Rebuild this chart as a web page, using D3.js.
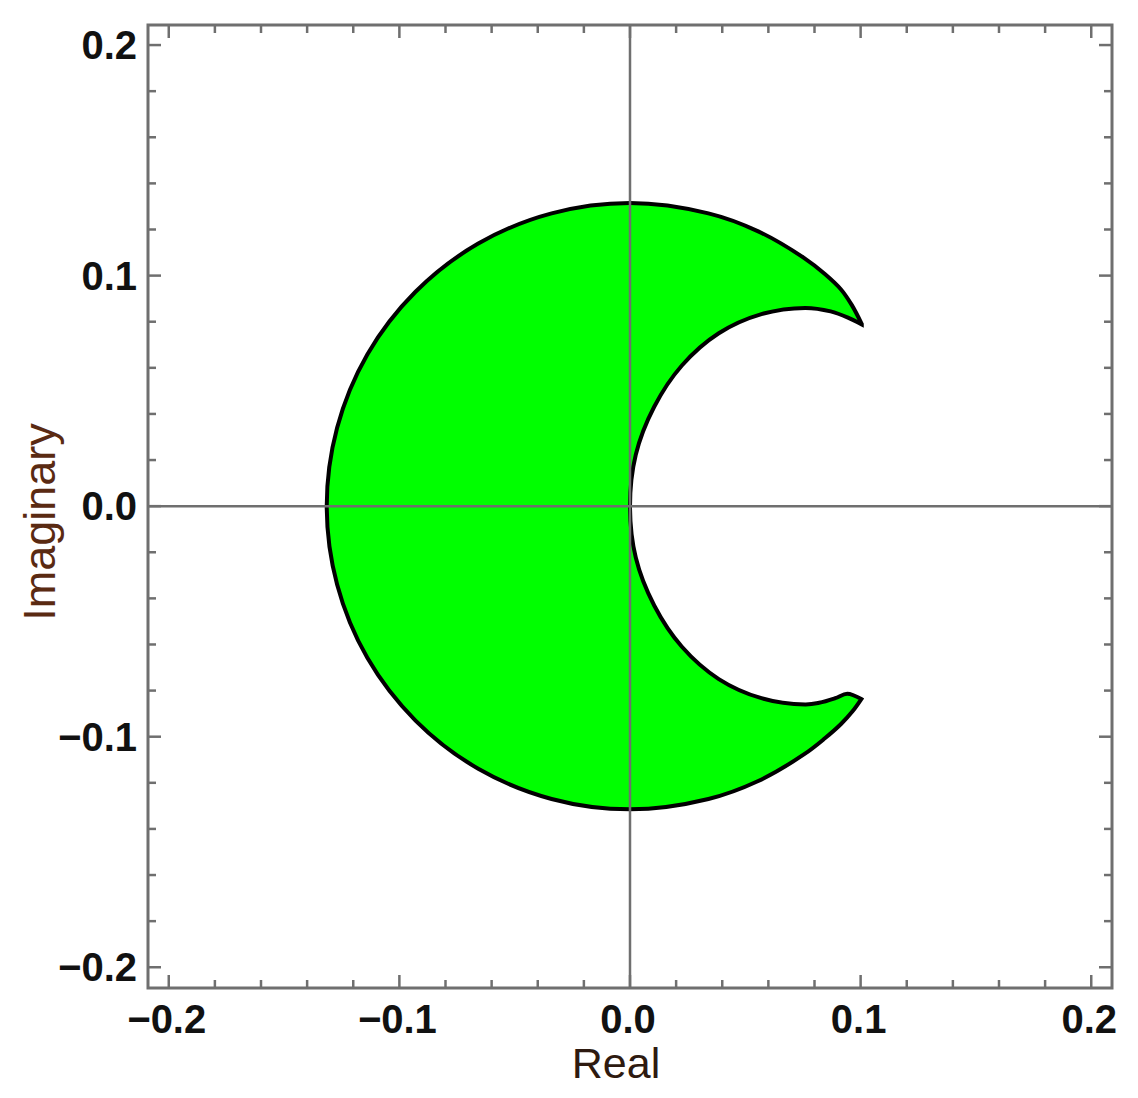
<!DOCTYPE html>
<html>
<head>
<meta charset="utf-8">
<script src="https://cdn.jsdelivr.net/npm/d3@7"></script>
<style>
  html, body { margin: 0; padding: 0; background: #fff; }
  svg { display: block; }
</style>
</head>
<body>
<svg id="chart" width="1138" height="1098"></svg>
<script>
// ---- data ----
// outer boundary: from the upper tip, counter-clockwise round the left, to the lower tip
const outerRe = [0.1005, 0.0962, 0.0915, 0.0845, 0.0754, 0.0556, 0.0340, 0.0000, -0.0340, -0.0658, -0.0930, -0.1139, -0.1270, -0.1315,
                 -0.1270, -0.1139, -0.0930, -0.0658, -0.0340, 0.0000, 0.0340, 0.0556, 0.0754, 0.0845, 0.0915, 0.0965, 0.1003];
const outerIm = [0.0790, 0.0872, 0.0940, 0.1007, 0.1077, 0.1192, 0.1270, 0.1315, 0.1270, 0.1139, 0.0930, 0.0658, 0.0340, 0.0000,
                 -0.0340, -0.0658, -0.0930, -0.1139, -0.1270, -0.1315, -0.1270, -0.1192, -0.1077, -0.1007, -0.0945, -0.0890, -0.0837];
// inner boundary: from the lower tip back to the upper tip
const innerRe = [0.1003, 0.0942, 0.0890, 0.0820, 0.0760, 0.0570, 0.0385, 0.0225, 0.0105, 0.0025, 0.0000,
                 0.0025, 0.0105, 0.0225, 0.0385, 0.0570, 0.0760, 0.0870, 0.0945, 0.1005];
const innerIm = [-0.0837, -0.0814, -0.0833, -0.0853, -0.0860, -0.0833, -0.0750, -0.0610, -0.0431, -0.0223, 0.0000,
                 0.0223, 0.0431, 0.0610, 0.0750, 0.0833, 0.0860, 0.0845, 0.0818, 0.0788];

const majorTicks = [-0.2, -0.1, 0.0, 0.1, 0.2];
const majorLabels = ["\u22120.2", "\u22120.1", "0.0", "0.1", "0.2"];
const minorTicks = [-0.18, -0.16, -0.14, -0.12, -0.08, -0.06, -0.04, -0.02, 0.02, 0.04, 0.06, 0.08, 0.12, 0.14, 0.16, 0.18];
const xTitle = "Real";
const yTitle = "Imaginary";

// ---- layout ----
const L = 148, R = 1112, T = 25, B = 988;
const x = d3.scaleLinear().domain([-0.209, 0.209]).range([L, R]);
const y = d3.scaleLinear().domain([-0.209, 0.2087]).range([B, T]);

const svg = d3.select("#chart");
const gray = "#6f6f6f";

// ---- region ----
const outerPts = outerRe.map((v, i) => [v, outerIm[i]]);
const innerPts = innerRe.map((v, i) => [v, innerIm[i]]);
const line = d3.line().x(d => x(d[0])).y(d => y(d[1])).curve(d3.curveCatmullRom.alpha(0.5));
const dOuter = line(outerPts);
const dInner = line(innerPts).replace(/^M/, "L");
svg.append("path")
  .attr("d", dOuter + dInner + "Z")
  .attr("fill", "#00ff00")
  .attr("stroke", "#000")
  .attr("stroke-width", 4)
  .attr("stroke-linejoin", "miter");

// ---- axes through origin ----
svg.append("line").attr("x1", L).attr("x2", R).attr("y1", y(0)).attr("y2", y(0))
  .attr("stroke", gray).attr("stroke-width", 2.5);
svg.append("line").attr("x1", x(0)).attr("x2", x(0)).attr("y1", T).attr("y2", B)
  .attr("stroke", gray).attr("stroke-width", 2.5);

// ---- frame with ticks on all sides ----
const frame = svg.append("g");
const majLen = 13, minLen = 8;
function sideTicks(scale, ticks, len, orient) {
  ticks.forEach(t => {
    const p = scale(t);
    let a;
    if (orient === "bottom") a = [p, B, p, B - len];
    if (orient === "top") a = [p, T, p, T + len];
    if (orient === "left") a = [L, p, L + len, p];
    if (orient === "right") a = [R, p, R - len, p];
    frame.append("line").attr("x1", a[0]).attr("y1", a[1]).attr("x2", a[2]).attr("y2", a[3])
      .attr("stroke", gray).attr("stroke-width", 2.5);
  });
}
["bottom", "top"].forEach(o => { sideTicks(x, majorTicks, majLen, o); sideTicks(x, minorTicks, minLen, o); });
["left", "right"].forEach(o => { sideTicks(y, majorTicks, majLen, o); sideTicks(y, minorTicks, minLen, o); });
frame.append("rect").attr("x", L).attr("y", T).attr("width", R - L).attr("height", B - T)
  .attr("fill", "none").attr("stroke", gray).attr("stroke-width", 3);

// ---- tick labels ----
const font = "'Liberation Sans', Arial, sans-serif";
svg.append("g").selectAll("text").data(majorTicks).join("text")
  .attr("x", d => x(d) - 2).attr("y", 1033)
  .attr("text-anchor", "middle")
  .attr("font-family", font).attr("font-size", 40).attr("font-weight", "bold").attr("fill", "#111")
  .text((d, i) => majorLabels[i]);
svg.append("g").selectAll("text").data(majorTicks).join("text")
  .attr("x", 137).attr("y", d => y(d) + 14)
  .attr("text-anchor", "end")
  .attr("font-family", font).attr("font-size", 40).attr("font-weight", "bold").attr("fill", "#111")
  .text((d, i) => majorLabels[i]);

// ---- axis titles ----
svg.append("text").attr("x", 616).attr("y", 1078).attr("text-anchor", "middle")
  .attr("font-family", font).attr("font-size", 43).attr("fill", "#2e1a10").text(xTitle);
svg.append("text").attr("transform", "translate(55,522) rotate(-90)").attr("text-anchor", "middle")
  .attr("font-family", font).attr("font-size", 45).attr("fill", "#5a2a12").text(yTitle);
</script>
</body>
</html>
